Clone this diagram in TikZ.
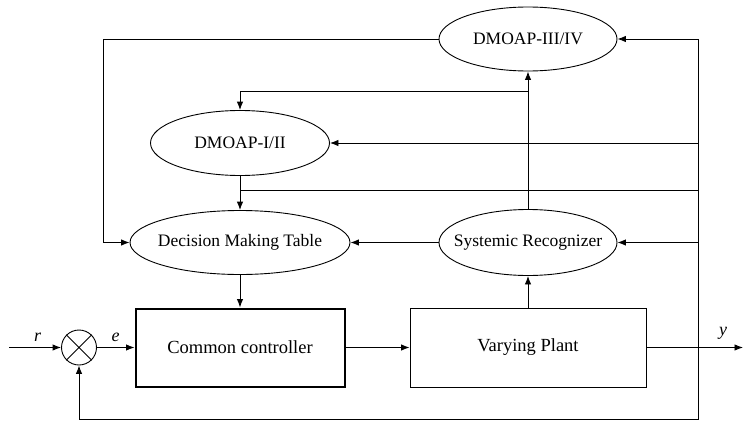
\documentclass[tikz,border=0pt]{standalone}
\usepackage{fontspec}
\setmainfont{Liberation Serif}
\usetikzlibrary{arrows.meta,shapes.geometric}
\newcommand{\nw}[1]{\makebox[0pt]{#1}}
\begin{document}
\begin{tikzpicture}[x=1pt,y=-1pt,
  line width=0.9pt,
  >={Latex[length=8.5pt,width=6.5pt]},
  oval/.style={ellipse, draw, inner sep=0pt, font=\fontsize{17.5}{20}\selectfont},
  blockbox/.style={rectangle, draw, inner sep=0pt, font=\fontsize{18.5}{21}\selectfont},
  sig/.style={font=\fontsize{18}{20}\selectfont\itshape}]
\useasboundingbox (0,0) rectangle (743,423);

% estimator / decision blocks
\node[oval, minimum width=178pt, minimum height=64pt] (d34) at (528,39) {\nw{DMOAP-III/IV}};
\node[oval, minimum width=179pt, minimum height=65pt] (d12) at (240,143) {\nw{DMOAP-I/II}};
\node[oval, minimum width=220pt, minimum height=64pt] (dmt) at (240,242.5) {\nw{Decision Making Table}};
\node[oval, minimum width=178pt, minimum height=66pt] (sr) at (528,242.5) {\nw{Systemic Recognizer}};

% loop blocks
\node[blockbox, line width=2pt, minimum width=209pt, minimum height=78pt] (cc) at (240,347.5) {Common controller};
\node[blockbox, minimum width=236pt, minimum height=79pt] (vp) at (528,347.5) {Varying Plant};
\node[circle, draw, minimum size=35pt, inner sep=0pt] (sum) at (79,347.5) {};
\draw (sum.north west) -- (sum.south east) (sum.north east) -- (sum.south west);

% helper points
\coordinate (lt) at (103,39);
\coordinate (rt) at (698,39);
\coordinate (rb) at (698,419);
\coordinate (j1) at (240,190);
\coordinate (j2) at (528,91);
\coordinate (in) at (9,347.5);
\coordinate (out) at (743,347.5);

% signal paths
\draw[->] (in) -- node[sig, above, yshift=2pt, pos=0.55] {r} (sum.west);
\draw[->] (sum.east) -- node[sig, above, yshift=2pt] {e} (cc.west);
\draw[->] (cc.east) -- (vp.west);
\draw[->] (vp.east) -- (out);
\node[sig] (ylab) at (723,333) {y};

% feedback bus on the right
\draw[->] (rt) -- (rb) -| (sum.south);
\draw[->] (rt) -- (d34.east);
\draw[->] (rt |- d12.east) -- (d12.east);
\draw (rt |- j1) -- (j1);
\draw[->] (rt |- sr.east) -- (sr.east);

% decision layer
\draw[->] (d34.west) -- (lt) |- (dmt.west);
\draw[->] (sr.north) -- (d34.south);
\draw[->] (j2) -| (d12.north);
\draw[->] (d12.south) -- (dmt.north);
\draw[->] (sr.west) -- (dmt.east);
\draw[->] (dmt.south) -- (cc.north);
\draw[->] (vp.north) -- (sr.south);
\end{tikzpicture}
\end{document}
